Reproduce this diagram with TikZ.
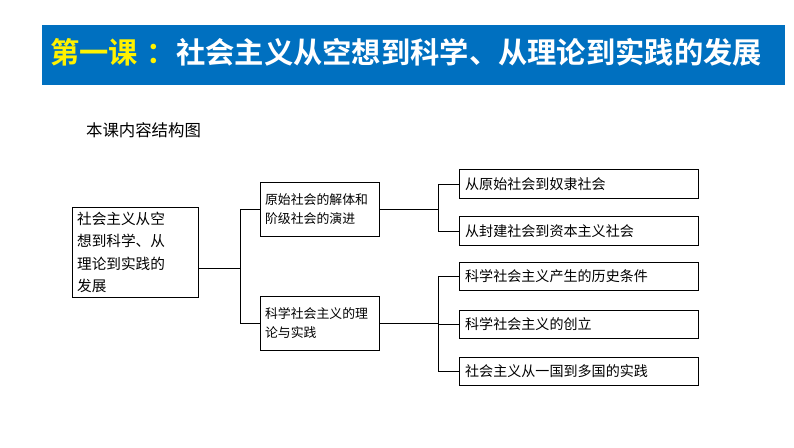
\documentclass[tikz,border=0pt]{standalone}
\usepackage{fontspec}
\newfontfamily\cjk{Noto Sans CJK SC}
\newfontfamily\cjkb{Noto Sans CJK SC Bold}
\usetikzlibrary{positioning}
\definecolor{titleblue}{RGB}{0,112,192}
\begin{document}
\begin{tikzpicture}[x=0.03cm, y=-0.03cm,
    box/.style={
        draw,
        thick,
        inner sep=4pt,
        align=left,
        font=\cjk\fontsize{11}{16}\selectfont
    },
    leaf/.style={
        box,
        minimum width=7.17cm,
        minimum height=0.86cm,
        text width=6.8cm,
        font=\cjk\fontsize{12}{16}\selectfont
    },
    mid/.style={
        box,
        minimum width=3.48cm,
        minimum height=1.62cm,
        text width=3.3cm
    },
    link/.style={thick}
]

%%%%%%%%%%%%%%%%%%%%%%%%
% Title bar
%%%%%%%%%%%%%%%%%%%%%%%%
\useasboundingbox (0,0) rectangle (794,447);
\fill[titleblue] (42,25) rectangle (785,85);
\node[font=\cjkb\fontsize{25}{28}\selectfont, anchor=west, inner sep=0pt] (title) at (50,52)
    {\textcolor{yellow}{第一课\hspace{0.3em}：}\textcolor{white}{社会主义从空想到科学、从理论到实践的发展}};

\node[font=\cjk\fontsize{14}{16}\selectfont, anchor=west] (caption) at (82,130) {本课内容结构图};

%%%%%%%%%%%%%%%%%%%%%%%%
% Boxes
%%%%%%%%%%%%%%%%%%%%%%%%

% --- Root ---
\node[box, minimum width=3.75cm, minimum height=2.37cm, text width=3.5cm,
      font=\cjk\fontsize{12.5}{19}\selectfont] (root) at (135.5,252.5)
    {社会主义从空\\想到科学、从\\理论到实践的\\发展};

% --- Middle level ---
\node[mid] (hist) at (320,209) {原始社会的解体和\\阶级社会的演进};
\node[mid] (sci) at (320,323) {科学社会主义的理\\论与实践};

% --- Leaves ---
\node[leaf] (l1) at (578.5,184) {从原始社会到奴隶社会};
\node[leaf] (l2) at (578.5,231) {从封建社会到资本主义社会};
\node[leaf] (l3) at (578.5,276.5) {科学社会主义产生的历史条件};
\node[leaf] (l4) at (578.5,324.5) {科学社会主义的创立};
\node[leaf] (l5) at (578.5,371.5) {社会主义从一国到多国的实践};

%%%%%%%%%%%%%%%%%%%%%%%%
% Connectors
%%%%%%%%%%%%%%%%%%%%%%%%
\coordinate (j0) at (240,268);
\coordinate (j1) at (438,209);
\coordinate (j2) at (438,323);

\draw[link] (root.east |- j0) -- (j0);
\draw[link] (j0 |- hist) -- (j0 |- sci);
\draw[link] (j0 |- hist) -- (hist.west);
\draw[link] (j0 |- sci) -- (sci.west);

\draw[link] (hist.east) -- (j1);
\draw[link] (j1 |- l1) -- (j1 |- l2);
\foreach \n in {l1,l2} \draw[link] (j1 |- \n) -- (\n.west);

\draw[link] (sci.east) -- (j2);
\draw[link] (j2 |- l3) -- (j2 |- l5);
\foreach \n in {l3,l4,l5} \draw[link] (j2 |- \n) -- (\n.west);

\end{tikzpicture}
\end{document}
